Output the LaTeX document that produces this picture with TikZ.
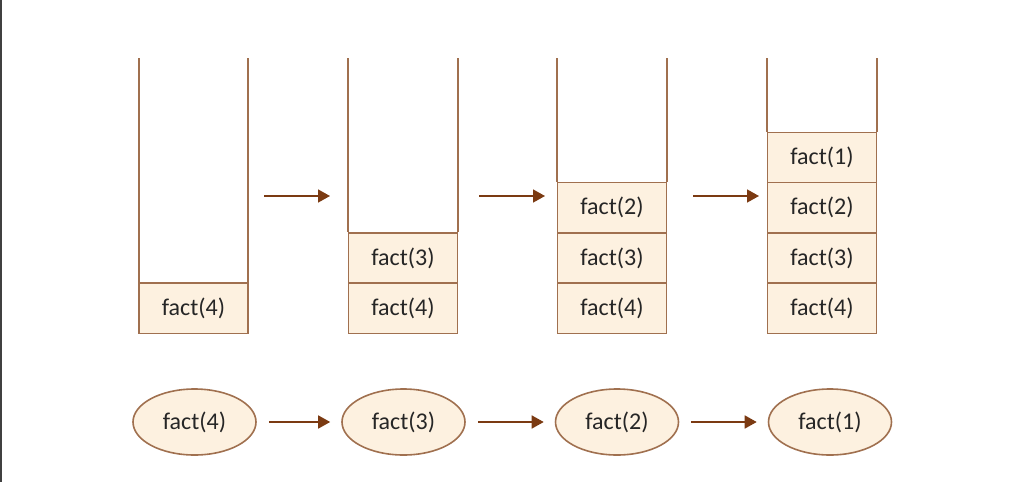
\documentclass[tikz,border=0pt]{standalone}
\usepackage{fontspec}
\setmainfont{Carlito}
\usetikzlibrary{shapes.geometric,arrows.meta}
\definecolor{framebrown}{HTML}{A0704F}
\definecolor{cellfill}{HTML}{FDF1E0}
\definecolor{arrowbrown}{HTML}{7B3A12}
\definecolor{textgray}{HTML}{262626}
\tikzset{
  cell/.style={draw=framebrown, fill=cellfill, line width=0.8pt,
    minimum width=54.5pt, minimum height=25.15pt, inner sep=0pt,
    text=textgray, font=\fontsize{12}{14}\selectfont},
  call/.style={cell, ellipse, minimum width=61.5pt, minimum height=33pt},
  wall/.style={draw=framebrown, line width=0.8pt},
  push/.style={draw=arrowbrown, line width=0.8pt,
    -{Triangle[length=6pt,width=6.5pt]}}
}
\begin{document}
\begin{tikzpicture}[x=0.5pt,y=-0.5pt]
      \useasboundingbox (0,0) rectangle (1022,482);
      \draw[line width=1pt, black!75] (0.5,0) -- (0.5,482);
      % stack tops
      \coordinate (t1l) at (139,58);
      \coordinate (t1r) at (248,58);
      \coordinate (t2l) at (348,58);
      \coordinate (t2r) at (458,58);
      \coordinate (t3l) at (557,58);
      \coordinate (t3r) at (667,58);
      \coordinate (t4l) at (767,58);
      \coordinate (t4r) at (877,58);
      % stacks
      \node[cell] (s1a) at (193.5,308.4) {fact(4)};
      \node[cell] (s2a) at (403,308.4) {fact(4)};
      \node[cell] (s2b) at (403,258.1) {fact(3)};
      \node[cell] (s3a) at (612,308.4) {fact(4)};
      \node[cell] (s3b) at (612,258.1) {fact(3)};
      \node[cell] (s3c) at (612,207.8) {fact(2)};
      \node[cell] (s4a) at (822,308.4) {fact(4)};
      \node[cell] (s4b) at (822,258.1) {fact(3)};
      \node[cell] (s4c) at (822,207.8) {fact(2)};
      \node[cell] (s4d) at (822,157.5) {fact(1)};
      \begin{scope}[wall]
        \draw (t1l) -- (t1l |- s1a.north);
        \draw (t1r) -- (t1r |- s1a.north);
        \draw (t2l) -- (t2l |- s2b.north);
        \draw (t2r) -- (t2r |- s2b.north);
        \draw (t3l) -- (t3l |- s3c.north);
        \draw (t3r) -- (t3r |- s3c.north);
        \draw (t4l) -- (t4l |- s4d.north);
        \draw (t4r) -- (t4r |- s4d.north);
      \end{scope}
      % arrows between stacks
      \coordinate (p1) at (264,196);
      \coordinate (q1) at (330,196);
      \coordinate (p2) at (479,196);
      \coordinate (q2) at (545,196);
      \coordinate (p3) at (693,196);
      \coordinate (q3) at (759,196);
      \begin{scope}[push]
        \draw (p1) -- (q1);
        \draw (p2) -- (q2);
        \draw (p3) -- (q3);
      \end{scope}
      % calls
      \node[call] (c4) at (194.5,422) {fact(4)};
      \node[call] (c3) at (403.5,422) {fact(3)};
      \node[call] (c2) at (617,422) {fact(2)};
      \node[call] (c1) at (830,422) {fact(1)};
      \begin{scope}[push, shorten <=6pt, shorten >=5.5pt]
        \draw (c4) -- (c3);
        \draw (c3) -- (c2);
        \draw (c2) -- (c1);
      \end{scope}
    \end{tikzpicture}
\end{document}
